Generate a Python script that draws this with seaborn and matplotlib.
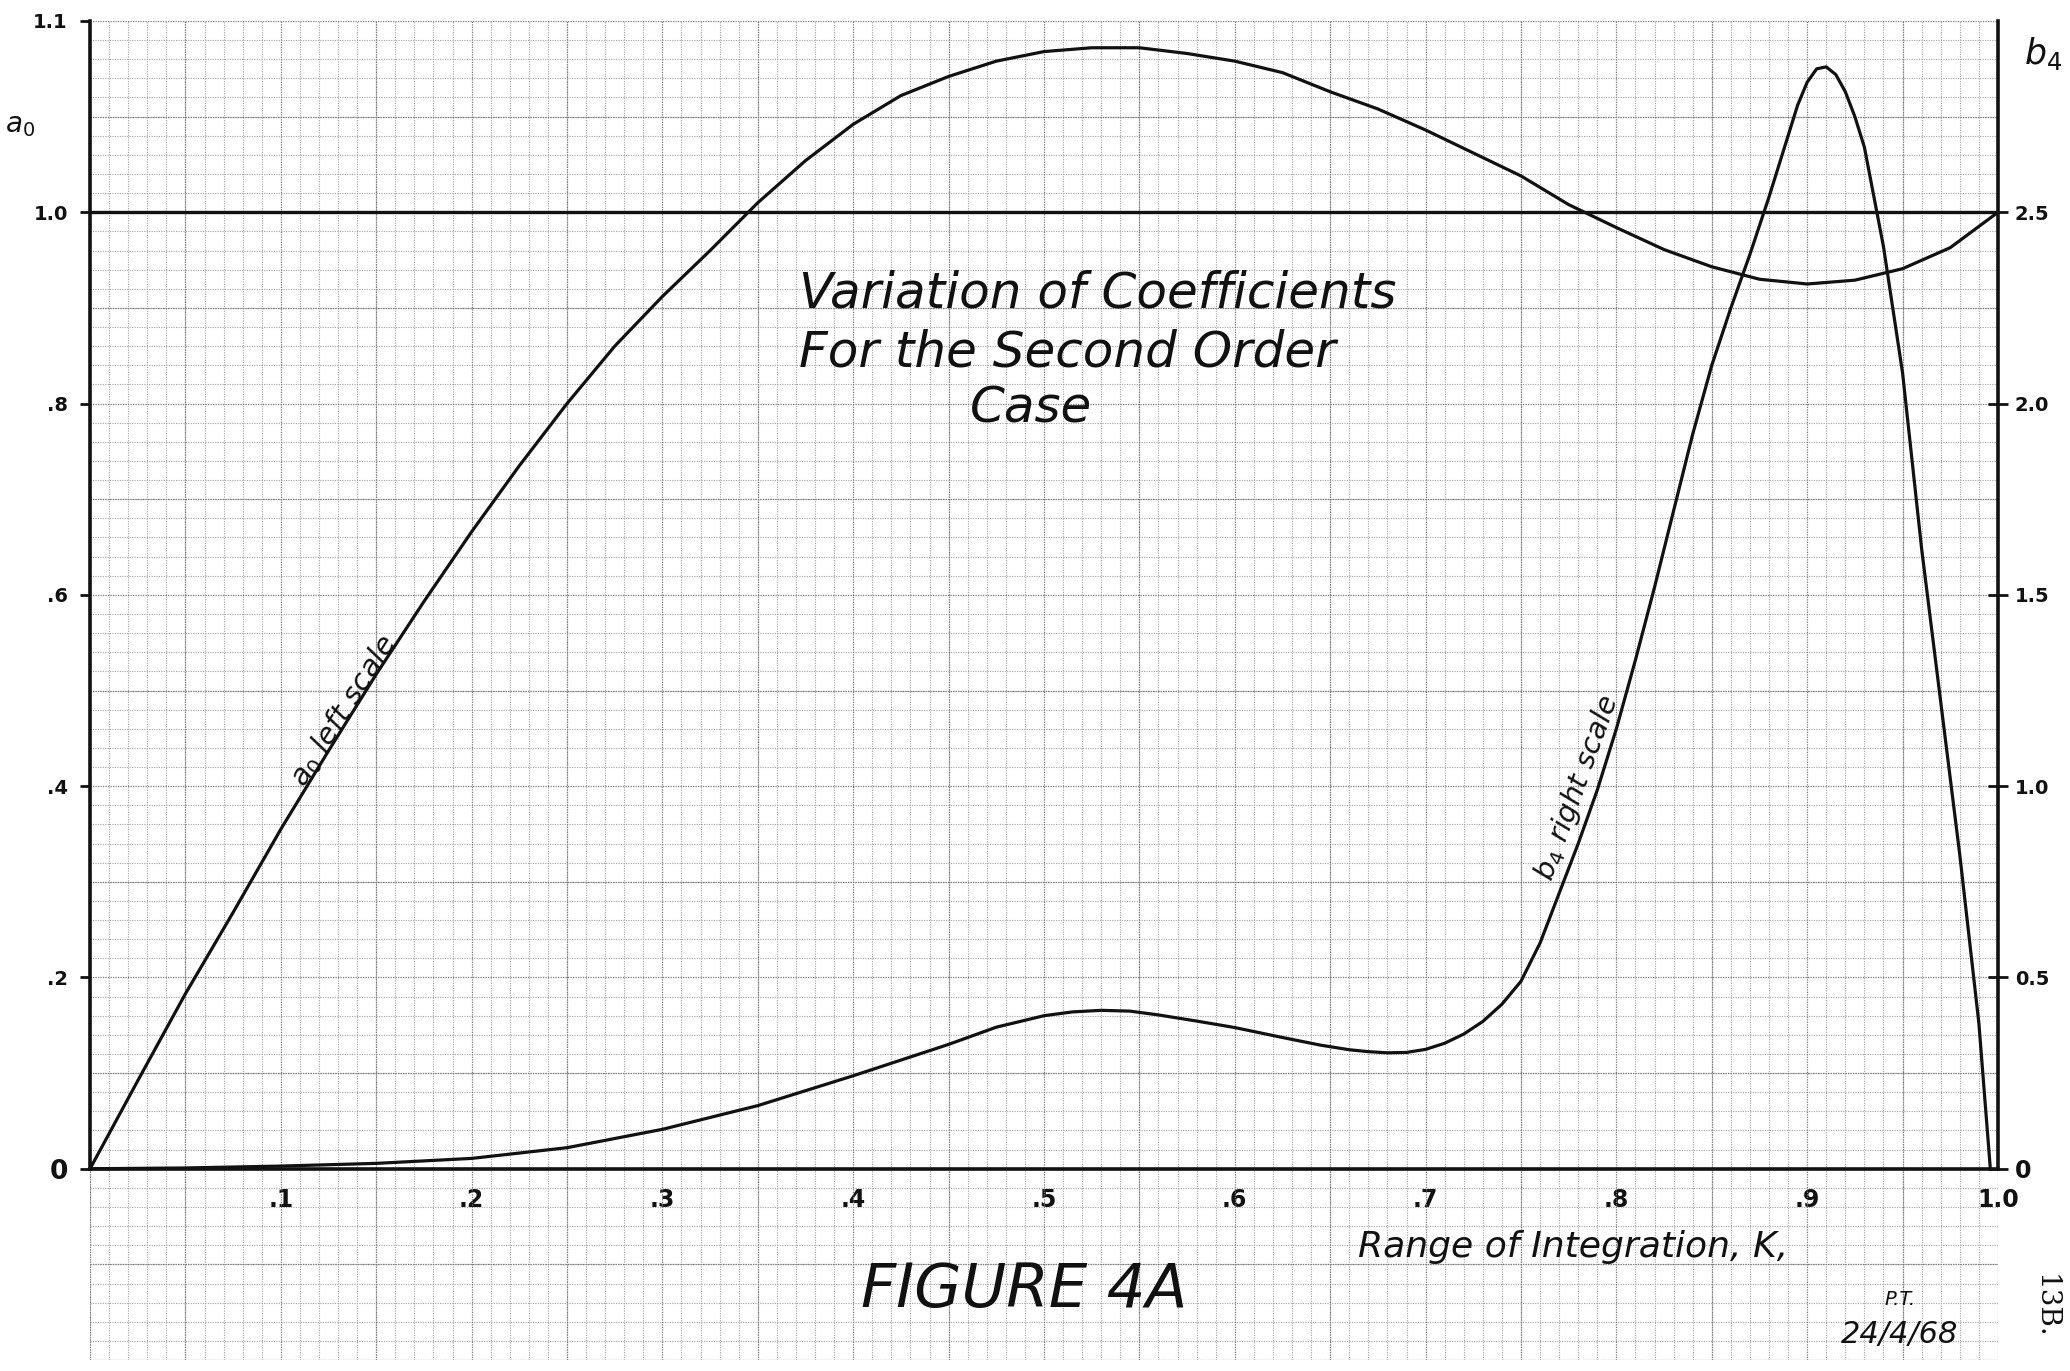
import matplotlib
matplotlib.use("Agg")
import numpy as np
import pandas as pd
import matplotlib.pyplot as plt
from matplotlib.ticker import FixedLocator
import seaborn as sns

# a0 (left scale) against the range of integration K
k_a0 = [0.000, 0.025, 0.050, 0.075, 0.100, 0.125, 0.150, 0.175, 0.200, 0.225,
        0.250, 0.275, 0.300, 0.325, 0.350, 0.375, 0.400, 0.425, 0.450, 0.475,
        0.500, 0.525, 0.550, 0.575, 0.600, 0.625, 0.650, 0.675, 0.700, 0.725,
        0.750, 0.775, 0.800, 0.825, 0.850, 0.875, 0.900, 0.925, 0.950, 0.975,
        1.000]
a0_values = [0.000, 0.092, 0.183, 0.268, 0.355, 0.437, 0.517, 0.593, 0.666, 0.735,
             0.800, 0.860, 0.912, 0.960, 1.005, 1.027, 1.046, 1.061, 1.071, 1.079,
             1.084, 1.086, 1.086, 1.083, 1.079, 1.073, 1.063, 1.054, 1.043, 1.031,
             1.019, 1.004, 0.984, 0.961, 0.943, 0.930, 0.925, 0.929, 0.941, 0.963,
             1.000]

# b4 (right scale) against K
k_b4 = [0.00, 0.05, 0.10, 0.15, 0.20, 0.25, 0.30, 0.35, 0.40, 0.45,
        0.475, 0.50, 0.515, 0.53, 0.545, 0.56, 0.58, 0.60, 0.625, 0.645,
        0.66, 0.67, 0.68, 0.69, 0.70, 0.71, 0.72, 0.73, 0.74, 0.75,
        0.76, 0.77, 0.78, 0.79, 0.80, 0.81, 0.82, 0.83, 0.84, 0.85,
        0.86, 0.87, 0.88, 0.89, 0.895, 0.90, 0.905, 0.91, 0.915, 0.92,
        0.925, 0.93, 0.94, 0.95, 0.96, 0.97, 0.98, 0.99, 0.996]
b4_values = [0.000, 0.002, 0.007, 0.014, 0.027, 0.055, 0.103, 0.165, 0.243, 0.325,
             0.370, 0.400, 0.410, 0.414, 0.412, 0.402, 0.386, 0.369, 0.343, 0.323,
             0.311, 0.306, 0.303, 0.304, 0.312, 0.328, 0.352, 0.385, 0.430, 0.490,
             0.590, 0.720, 0.850, 0.990, 1.150, 1.330, 1.520, 1.720, 1.920, 2.100,
             2.250, 2.390, 2.540, 2.700, 2.780, 2.840, 2.875, 2.880, 2.860, 2.815,
             2.750, 2.670, 2.410, 2.080, 1.620, 1.220, 0.820, 0.380, 0.000]

x_ticks = [0.1, 0.2, 0.3, 0.4, 0.5, 0.6, 0.7, 0.8, 0.9, 1.0]
x_tick_labels = [".1", ".2", ".3", ".4", ".5", ".6", ".7", ".8", ".9", "1.0"]
left_ticks = [0.0, 0.2, 0.4, 0.6, 0.8, 1.0, 1.1]
left_tick_labels = ["0", ".2", ".4", ".6", ".8", "1.0", "1.1"]
right_ticks = [0.0, 0.5, 1.0, 1.5, 2.0, 2.5]
right_tick_labels = ["0", "0.5", "1.0", "1.5", "2.0", "2.5"]

title_lines = ["Variation of Coefficients", "For the Second Order", "Case"]

sns.set_style("white")
plt.rcParams["font.family"] = ["DejaVu Sans"]
plt.rcParams["mathtext.fontset"] = "dejavusans"

INK = "#111111"
GRID_FINE = "#a2a2a2"
GRID_BOLD = "#787878"


# left scale is stretched above 1.0 (0.1 there takes the room of 0.2 below)
def _fwd(v):
    v = np.asarray(v, dtype=float)
    return np.where(v > 1.0, 1.0 + 2.0 * (v - 1.0), v)


def _inv(p):
    p = np.asarray(p, dtype=float)
    return np.where(p > 1.0, 1.0 + (p - 1.0) / 2.0, p)


fig = plt.figure(figsize=(20.7, 13.71), dpi=100)
ax = fig.add_axes([0.0435, 0.008, 0.9217, 0.9767])
ax.set_yscale("function", functions=(_fwd, _inv))
ax.set_xlim(0, 1)
ax.set_ylim(-0.2, 1.1)

# graph-paper ruling
k_fine = np.round(np.arange(0, 1.0001, 0.01), 2)
v_fine = np.concatenate([np.round(np.arange(-0.2, 1.0001, 0.02), 2),
                         np.round(np.arange(1.01, 1.1001, 0.01), 2)])
ax.xaxis.set_minor_locator(FixedLocator(k_fine))
ax.yaxis.set_minor_locator(FixedLocator(v_fine))
ax.grid(False)
ax.grid(which="minor", color=GRID_FINE, lw=0.8, ls=(0, (1.0, 1.2)))
ax.tick_params(which="minor", length=0)
k_bold = np.round(np.arange(0, 1.0001, 0.05), 2)
v_bold = np.concatenate([np.round(np.arange(-0.2, 1.0001, 0.1), 2), [1.05, 1.1]])
ax.vlines(k_bold, -0.2, 1.1, color=GRID_BOLD, lw=0.9, ls=(0, (1.0, 1.0)), zorder=0.6)
ax.hlines(v_bold, 0, 1, color=GRID_BOLD, lw=0.9, ls=(0, (1.0, 1.0)), zorder=0.6)

# a0 curve and the 1.0 reference line
df_a0 = pd.DataFrame({"K": k_a0, "a0": a0_values})
sns.lineplot(data=df_a0, x="K", y="a0", ax=ax, color=INK, lw=2.3,
             estimator=None, sort=False, zorder=3)
ax.axhline(1.0, color=INK, lw=2.4, zorder=3)
ax.set_xlabel("")
ax.set_ylabel("")

for side in ["top", "right"]:
    ax.spines[side].set_visible(False)
ax.spines["left"].set_bounds(0, 1.1)
ax.spines["bottom"].set_position(("data", 0))
for side in ["left", "bottom"]:
    ax.spines[side].set_color(INK)
    ax.spines[side].set_linewidth(2.6)

ax.set_xticks(x_ticks, x_tick_labels)
ax.tick_params(axis="x", which="major", direction="inout", length=16, width=2,
               pad=6, labelsize=17, colors=INK)
ax.set_yticks(left_ticks, left_tick_labels)
ax.tick_params(axis="y", which="major", direction="out", length=7, width=2,
               pad=9, labelsize=14, colors=INK)
for lbl in ax.get_xticklabels() + ax.get_yticklabels():
    lbl.set_fontweight("bold")
for lbl in ax.get_yticklabels():
    if lbl.get_text() == "0":
        lbl.set_fontsize(19)

# b4 on the right-hand scale
ax2 = ax.twinx()
df_b4 = pd.DataFrame({"K": k_b4, "b4": b4_values})
sns.lineplot(data=df_b4, x="K", y="b4", ax=ax2, color=INK, lw=2.3,
             estimator=None, sort=False, zorder=3)
ax2.set_xlim(0, 1)
ax2.set_ylim(-0.5, 3.0)
ax2.set_ylabel("")
ax2.grid(False)
for side in ["left", "top", "bottom"]:
    ax2.spines[side].set_visible(False)
ax2.spines["right"].set_bounds(0, 3.0)
ax2.spines["right"].set_color(INK)
ax2.spines["right"].set_linewidth(2.6)
ax2.set_yticks(right_ticks, right_tick_labels)
ax2.tick_params(axis="y", direction="inout", length=14, width=2, pad=5,
                labelsize=14, colors=INK)
for lbl in ax2.get_yticklabels():
    lbl.set_fontweight("bold")
    if lbl.get_text() == "0":
        lbl.set_fontsize(17)

hand = dict(color=INK, fontstyle="italic")

# title block
ax.text(0.3716, 0.7857, title_lines[0], transform=ax.transAxes, fontsize=36,
        ha="left", va="baseline", **hand)
ax.text(0.3716, 0.7423, title_lines[1], transform=ax.transAxes, fontsize=36,
        ha="left", va="baseline", **hand)
ax.text(0.4610, 0.7005, title_lines[2], transform=ax.transAxes, fontsize=36,
        ha="left", va="baseline", **hand)

# curve captions, written just above each curve
ax.text(0.133, 0.479, r"$a_0$ left scale", fontsize=21, rotation=57.5,
        ha="center", va="center", **hand)
ax2.text(0.7795, 0.995, r"$b_4$ right scale", fontsize=21, rotation=70,
         ha="center", va="center", **hand)

# axis annotations
ax.text(0.6646, 0.0769, "Range of Integration, K,", transform=ax.transAxes,
        fontsize=26, ha="left", va="baseline", **hand)
ax.text(0.4040, 0.0396, "FIGURE 4A", transform=ax.transAxes, fontsize=44,
        ha="left", va="baseline", **hand)
ax.text(0.9486, 0.041, "P.T.", transform=ax.transAxes, fontsize=14,
        ha="center", va="baseline", **hand)
ax.text(0.9486, 0.0127, "24/4/68", transform=ax.transAxes, fontsize=22,
        ha="center", va="baseline", **hand)

fig.text(0.0097, 0.909, r"$a_0$", fontsize=20, ha="center", va="center", color=INK)
fig.text(0.987, 0.961, r"$b_4$", fontsize=25, ha="center", va="center", color=INK)
fig.text(0.988, 0.047, "13B.", rotation=-90, fontsize=20, family="DejaVu Serif",
         ha="center", va="center", color=INK)

fig.savefig("out.png", dpi=100, facecolor="white")
